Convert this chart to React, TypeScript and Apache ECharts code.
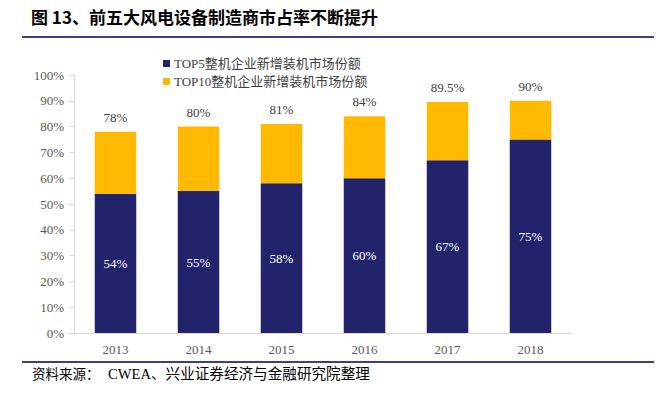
import React, { useEffect, useRef } from "react";
import * as echarts from "echarts";

const years = ["2013", "2014", "2015", "2016", "2017", "2018"];
const top5 = [54, 55, 58, 60, 67, 75];
const top10Total = [78, 80, 81, 84, 89.5, 90];
const top10Extra = [24, 25, 23, 24, 22.5, 15];
const yTicks = [0, 10, 20, 30, 40, 50, 60, 70, 80, 90, 100];

const serif = "'Liberation Serif', 'Noto Sans CJK SC', serif";
const cjk = "'Liberation Serif', 'Noto Sans CJK SC', sans-serif";

export default function App() {
  const ref = useRef<HTMLDivElement>(null);
  useEffect(() => {
    if (!ref.current) return;
    const chart = echarts.init(ref.current, null, { renderer: "svg" });
    chart.setOption({
      animation: false,
      backgroundColor: "#ffffff",
      grid: { left: 74, right: 87, top: 75, bottom: 63, containLabel: false },
      legend: {
        orient: "vertical",
        left: 158,
        top: 52,
        itemWidth: 7,
        itemHeight: 7,
        itemGap: 5,
        icon: "rect",
        textStyle: { fontFamily: cjk, fontSize: 13, color: "#404040", padding: [0, 0, 0, -1] },
        data: ["TOP5整机企业新增装机市场份额", "TOP10整机企业新增装机市场份额"],
      },
      xAxis: {
        type: "category",
        data: years,
        axisLine: { lineStyle: { color: "#d9d9d9" } },
        axisTick: { show: false },
        axisLabel: { fontFamily: serif, fontSize: 13, color: "#595959", margin: 10 },
      },
      yAxis: {
        type: "value",
        min: 0,
        max: 100,
        interval: 10,
        axisLine: { show: true, lineStyle: { color: "#d9d9d9" } },
        axisTick: { show: true, inside: false, length: 5, lineStyle: { color: "#d9d9d9" } },
        splitLine: { show: false },
        axisLabel: {
          fontFamily: serif,
          fontSize: 13,
          color: "#595959",
          margin: 10,
          formatter: (v: number) => (yTicks.includes(v) ? v + "%" : ""),
        },
      },
      series: [
        {
          name: "TOP5整机企业新增装机市场份额",
          type: "bar",
          stack: "s",
          barWidth: "50%",
          data: top5,
          itemStyle: { color: "#23236B" },
          label: {
            show: true,
            position: "inside",
            color: "#ffffff",
            fontFamily: serif,
            fontSize: 13,
            formatter: (p: any) => p.value + "%",
          },
        },
        {
          name: "TOP10整机企业新增装机市场份额",
          type: "bar",
          stack: "s",
          barWidth: "50%",
          data: top10Extra,
          itemStyle: { color: "#FFB900" },
          label: {
            show: true,
            position: "top",
            distance: 8,
            color: "#404040",
            fontFamily: serif,
            fontSize: 13,
            formatter: (p: any) => top10Total[p.dataIndex] + "%",
          },
        },
      ],
      graphic: [
        {
          type: "text",
          left: 31,
          top: 8,
          style: {
            text: "图 13、前五大风电设备制造商市占率不断提升",
            fontFamily: "'Noto Sans CJK SC', sans-serif",
            fontWeight: "bold",
            fontSize: 17,
            fill: "#000000",
          },
        },
        {
          type: "line",
          shape: { x1: 22, y1: 37, x2: 654, y2: 37 },
          style: { stroke: "#3F3F7F", lineWidth: 2 },
        },
        {
          type: "line",
          shape: { x1: 22, y1: 362, x2: 654, y2: 362 },
          style: { stroke: "#3F3F7F", lineWidth: 2 },
        },
        {
          type: "text",
          left: 32,
          top: 368,
          style: {
            text: "资料来源：",
            fontFamily: cjk,
            fontSize: 13.5,
            fill: "#000000",
          },
        },
        {
          type: "text",
          left: 108,
          top: 367,
          style: {
            text: "CWEA、兴业证券经济与金融研究院整理",
            fontFamily: cjk,
            fontSize: 14.6,
            fill: "#000000",
          },
        },
      ],
    });
    return () => chart.dispose();
  }, []);
  return <div ref={ref} style={{ width: 659, height: 396, position: "absolute", left: 0, top: 0 }} />;
}
